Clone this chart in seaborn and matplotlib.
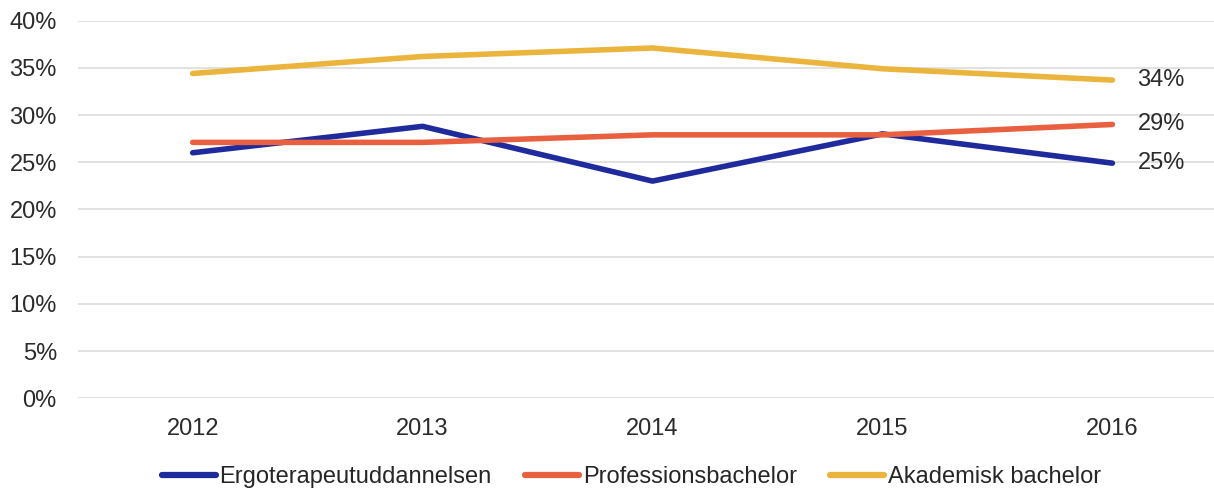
import numpy as np
import pandas as pd
import matplotlib
matplotlib.use("Agg")
import matplotlib.pyplot as plt
import seaborn as sns
from matplotlib.ticker import PercentFormatter

# data (share in %)
years = ["2012", "2013", "2014", "2015", "2016"]
ergo = [26.0, 28.8, 23.0, 28.0, 24.9]
prof = [27.1, 27.1, 27.9, 27.9, 29.0]
akad = [34.4, 36.2, 37.1, 34.9, 33.7]
series_names = ["Ergoterapeutuddannelsen", "Professionsbachelor", "Akademisk bachelor"]
colors = ["#1f2a9c", "#e8603f", "#ebb43c"]

df = pd.DataFrame({
    "year": years * 3,
    "value": ergo + prof + akad,
    "series": np.repeat(series_names, len(years)),
})

sns.set_style("white")
plt.rcParams['font.family'] = ['Liberation Sans', 'DejaVu Sans']
plt.rcParams['font.size'] = 17

fig = plt.figure(figsize=(12.14, 4.91), dpi=100)
# plot area runs a bit past the right edge, like the original export
ax = fig.add_axes([0.064, 0.189, 0.947, 0.769])

sns.lineplot(data=df, x="year", y="value", hue="series", hue_order=series_names,
             palette=colors, linewidth=4, sort=False, ax=ax, legend=False,
             solid_capstyle='round')

ax.set_ylim(0, 40)
ax.set_xlim(-0.5, len(years) - 0.5)
ax.set_yticks(range(0, 41, 5))
ax.yaxis.set_major_formatter(PercentFormatter(decimals=0))
ax.grid(axis='y', color='#dedede', linewidth=1.3)
ax.set_axisbelow(True)
for s in ax.spines.values():
    s.set_visible(False)
ax.tick_params(axis='both', length=0, labelsize=17, colors='#2b2b2b')
ax.tick_params(axis='y', pad=15)
ax.tick_params(axis='x', pad=14)
ax.set_xlabel('')
ax.set_ylabel('')

# end labels
for vals in [ergo, prof, akad]:
    ax.annotate(f"{round(vals[-1]):.0f}%", xy=(len(years) - 1, vals[-1]),
                xytext=(18, 0), textcoords='offset points', va='center',
                ha='left', fontsize=17, color='#2b2b2b')

handles = [plt.Line2D([], [], color=c, linewidth=4.5, solid_capstyle='round') for c in colors]
fig.legend(handles, series_names, loc='center', bbox_to_anchor=(0.52, 0.028),
           ncol=3, frameon=False, fontsize=17, handlelength=2.3,
           handletextpad=0.15, columnspacing=1.4)

fig.savefig("out.png", dpi=100)
